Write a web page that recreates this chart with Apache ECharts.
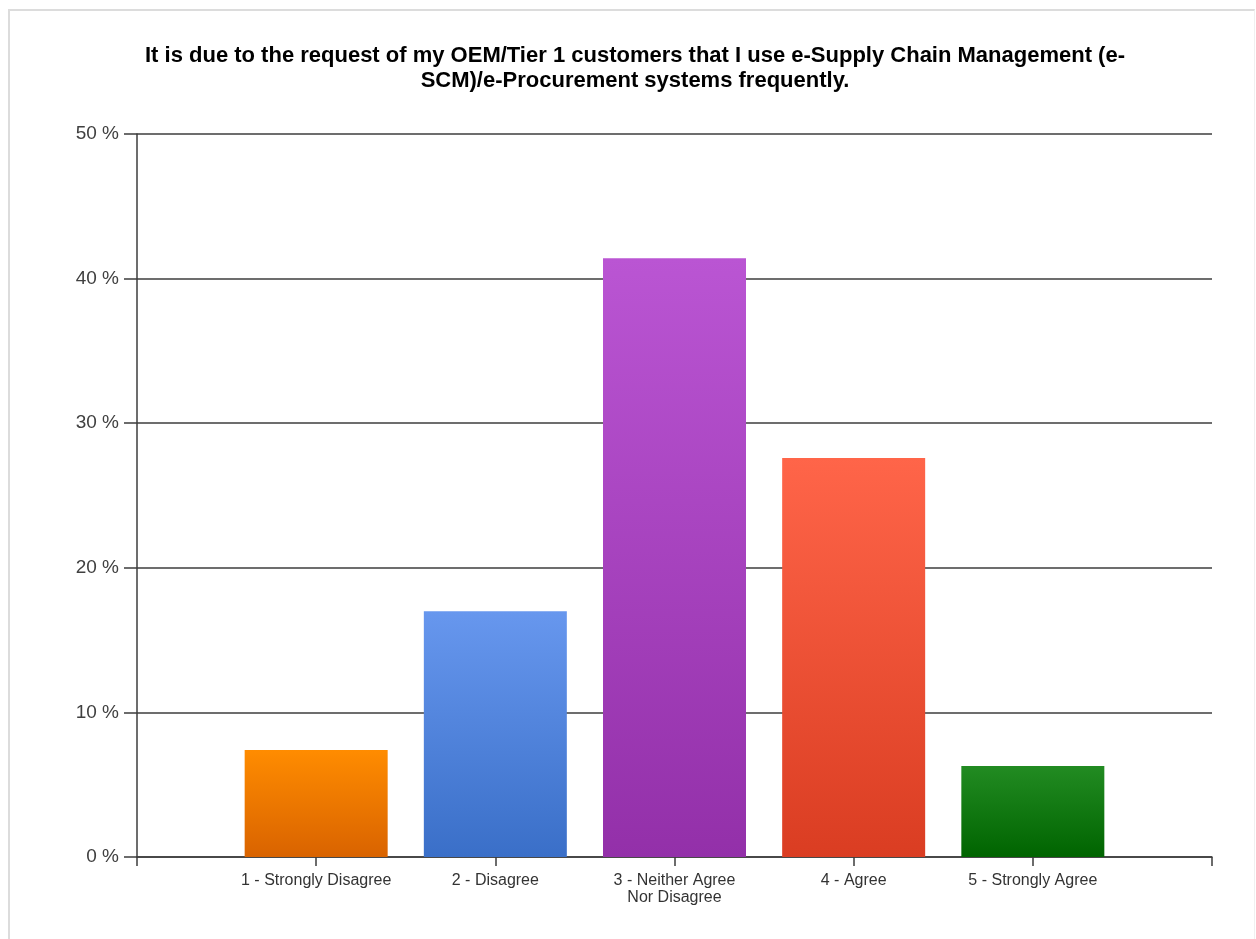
<!DOCTYPE html>
<html>
<head>
<meta charset="utf-8">
<script src="https://cdn.jsdelivr.net/npm/echarts@6/dist/echarts.min.js"></script>
<style>
  html, body { margin: 0; padding: 0; background: #fff; }
  #chart { width: 1256px; height: 939px; }
  #frame {
    position: absolute; left: 8px; top: 9px; right: 1px; bottom: -2px;
    border-left: 2px solid #dcdcdc; border-top: 2px solid #dcdcdc;
    border-right: 1px solid #f0f0f0; pointer-events: none;
  }
</style>
</head>
<body>
<div id="chart"></div>
<div id="frame"></div>
<script>
// Survey answers and share of respondents (%)
const categories = [
  '1 - Strongly Disagree',
  '2 - Disagree',
  '3 - Neither Agree\nNor Disagree',
  '4 - Agree',
  '5 - Strongly Agree'
];
const percents = [7.4, 17.0, 41.4, 27.6, 6.3];
const yTicks = [0, 10, 20, 30, 40, 50];

// top / bottom colour of each bar's gradient
const barColors = [
  ['#ff8c00', '#d96300'],
  ['#6797ee', '#3a6fc8'],
  ['#ba55d3', '#9330a9'],
  ['#ff6549', '#da3d22'],
  ['#228b22', '#006400']
];

document.addEventListener('DOMContentLoaded', () => {
  const chart = echarts.init(document.getElementById('chart'));

  const barData = percents.map((v, i) => ({
    value: [i + 1, v],
    itemStyle: {
      color: new echarts.graphic.LinearGradient(0, 0, 0, 1, [
        { offset: 0, color: barColors[i][0] },
        { offset: 1, color: barColors[i][1] }
      ])
    }
  }));

  const axisColor = '#3c3c3c';

  chart.setOption({
    animation: false,
    title: {
      text: 'It is due to the request of my OEM/Tier 1 customers that I use e-Supply Chain Management (e-\nSCM)/e-Procurement systems frequently.',
      left: 630,
      textAlign: 'center',
      top: 38,
      textStyle: {
        fontFamily: 'Liberation Sans, Arial, sans-serif',
        fontSize: 22,
        fontWeight: 'bold',
        color: '#000',
        lineHeight: 25
      }
    },
    grid: { left: 137, right: 44, top: 134, bottom: 82, containLabel: false },
    xAxis: {
      type: 'value',
      min: 0,
      max: categories.length + 1,
      interval: 1,
      splitLine: { show: false },
      axisLine: { show: true, lineStyle: { color: axisColor, width: 1.5 } },
      axisTick: { show: true, length: 9, lineStyle: { color: axisColor, width: 1.5 } },
      axisLabel: {
        margin: 15,
        fontFamily: 'Liberation Sans, Arial, sans-serif',
        fontSize: 16,
        color: '#333',
        lineHeight: 17,
        formatter: v => categories[v - 1] || ''
      }
    },
    yAxis: {
      type: 'value',
      min: yTicks[0],
      max: yTicks[yTicks.length - 1],
      interval: 10,
      axisLine: { show: true, lineStyle: { color: axisColor, width: 1.5 } },
      axisTick: { show: true, length: 13, lineStyle: { color: axisColor, width: 1.5 } },
      splitLine: { show: true, lineStyle: { color: axisColor, width: 1.5 } },
      axisLabel: {
        margin: 18,
        fontFamily: 'Liberation Sans, Arial, sans-serif',
        fontSize: 19,
        color: '#404040',
        formatter: '{value} %'
      }
    },
    series: [{
      type: 'bar',
      data: barData,
      barWidth: 143
    }]
  });
});
</script>
</body>
</html>
